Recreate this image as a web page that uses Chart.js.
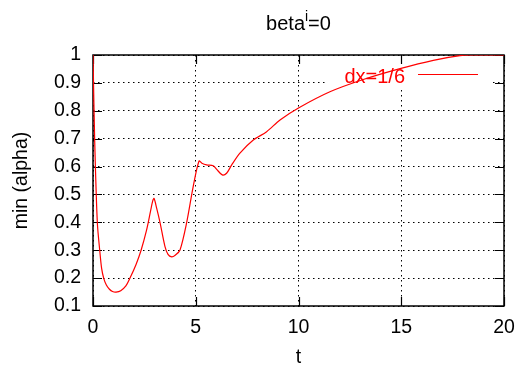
<!DOCTYPE html>
<html>
<head>
<meta charset="utf-8">
<script src="https://cdn.jsdelivr.net/npm/chart.js@4"></script>
<style>
  html, body { margin: 0; padding: 0; background: #fff; }
  #wrap { width: 519px; height: 369px; }
</style>
</head>
<body>
<div id="wrap"><canvas id="alphaChart" width="519" height="369"></canvas></div>
<script>
// min(alpha) against time, dx = 1/6
const tValues = [0, 0.08, 0.21, 0.34, 0.42, 0.52, 0.65, 0.8, 0.95, 1.12, 1.35, 1.6, 1.8, 2.1, 2.34, 2.6, 2.8, 2.9, 2.97,
  3.1, 3.26, 3.5, 3.65, 3.83, 4.0, 4.23, 4.56, 4.88, 5.16, 5.3, 5.53, 5.85, 6.02, 6.29, 6.5, 6.75,
  7.15, 7.8, 8.45, 9.1, 10, 11.53, 13.15, 14.94, 16.56, 17.86, 18.5, 20];
const minAlpha = [1.0, 0.7, 0.4, 0.29, 0.235, 0.2, 0.175, 0.16, 0.152, 0.15, 0.155, 0.172, 0.2, 0.25, 0.3, 0.37, 0.44, 0.475, 0.486,
  0.45, 0.40, 0.314, 0.285, 0.276, 0.282, 0.30, 0.40, 0.53, 0.62, 0.612, 0.606, 0.603, 0.59, 0.57, 0.576, 0.606,
  0.648, 0.695, 0.725, 0.767, 0.81, 0.868, 0.912, 0.951, 0.981, 0.998, 1.0, 1.0];
const xTicks = [0, 5, 10, 15, 20];
const yTicks = [0.1, 0.2, 0.3, 0.4, 0.5, 0.6, 0.7, 0.8, 0.9, 1];
const seriesLabel = 'dx=1/6';

const FONT = '"Liberation Sans", Arial, sans-serif';
const RED = '#ff0000';

// gnuplot style frame: key box, full border, inward ticks on all four sides
const framePlugin = {
  id: 'frame',
  beforeDatasetsDraw(chart) {
    const { ctx, chartArea: a, scales: { x, y } } = chart;
    ctx.save();
    // key
    ctx.fillStyle = '#fff';
    ctx.fillRect(328, a.top + 1, 164, 32);
    ctx.fillStyle = RED;
    ctx.font = '20px ' + FONT;
    ctx.textAlign = 'right';
    ctx.textBaseline = 'alphabetic';
    ctx.fillText(seriesLabel, 405, 82.5);
    ctx.strokeStyle = RED;
    ctx.lineWidth = 1;
    ctx.beginPath();
    ctx.moveTo(418, 74.5);
    ctx.lineTo(478, 74.5);
    ctx.stroke();

    ctx.strokeStyle = '#000';
    ctx.lineWidth = 1.5;
    ctx.strokeRect(a.left, a.top, a.right - a.left, a.bottom - a.top);
    ctx.lineWidth = 1.2;
    const len = 9;
    ctx.beginPath();
    xTicks.forEach(v => {
      const px = Math.round(x.getPixelForValue(v)) + 0.5;
      ctx.moveTo(px, a.bottom); ctx.lineTo(px, a.bottom - len);
      ctx.moveTo(px, a.top); ctx.lineTo(px, a.top + len);
    });
    yTicks.forEach(v => {
      const py = Math.round(y.getPixelForValue(v)) + 0.5;
      ctx.moveTo(a.left, py); ctx.lineTo(a.left + len, py);
      ctx.moveTo(a.right, py); ctx.lineTo(a.right - len, py);
    });
    ctx.stroke();
    ctx.restore();
  },
  afterDraw(chart) {
    // title with superscript i
    const { ctx, chartArea: a } = chart;
    const cx = (a.left + a.right) / 2;
    ctx.save();
    ctx.fillStyle = '#000';
    ctx.textBaseline = 'alphabetic';
    ctx.textAlign = 'left';
    const big = '20px ' + FONT, small = '14px ' + FONT;
    ctx.font = big;
    const w1 = ctx.measureText('beta').width;
    const w3 = ctx.measureText('=0').width;
    ctx.font = small;
    const w2 = ctx.measureText('i').width;
    let x0 = cx - (w1 + w2 + w3) / 2;
    const base = 30;
    ctx.font = big;
    ctx.fillText('beta', x0, base);
    ctx.font = small;
    ctx.fillText('i', x0 + w1, base - 9);
    ctx.font = big;
    ctx.fillText('=0', x0 + w1 + w2, base);
    ctx.restore();
  }
};

const ctx = document.getElementById('alphaChart').getContext('2d');
const alphaChart = new Chart(ctx, {
  type: 'line',
  data: {
    datasets: [{
      label: seriesLabel,
      data: tValues.map((t, i) => ({ x: t, y: minAlpha[i] })),
      borderColor: RED,
      borderWidth: 1.2,
      pointRadius: 0,
      fill: false,
      tension: 0.3,
    }]
  },
  options: {
    responsive: false,
    animation: false,
    devicePixelRatio: 1,
    layout: { padding: { top: 55, right: 15, left: 0, bottom: 0 } },
    plugins: {
      legend: { display: false },
      tooltip: { enabled: false },
    },
    scales: {
      x: {
        type: 'linear',
        min: 0,
        max: 20,
        afterFit: s => { s.height = 63; s.paddingLeft = 0; s.paddingRight = 0; },
        afterBuildTicks: s => { s.ticks = xTicks.map(v => ({ value: v })); },
        ticks: {
          color: '#000',
          font: { family: FONT, size: 19.5 },
          padding: 10,
          maxRotation: 0,
          callback: v => String(v),
        },
        grid: {
          color: '#000',
          lineWidth: 1,
          drawTicks: false,
        },
        border: { display: false, dash: [1.5, 3.5] },
        title: {
          display: true,
          text: 't',
          color: '#000',
          font: { family: FONT, size: 19.5 },
          padding: { top: 0, bottom: 0 },
        },
      },
      y: {
        type: 'linear',
        min: 0.1,
        max: 1,
        afterFit: s => { s.width = 93; s.paddingTop = 0; s.paddingBottom = 0; },
        afterBuildTicks: s => { s.ticks = yTicks.map(v => ({ value: v })); },
        ticks: {
          color: '#000',
          font: { family: FONT, size: 19.5 },
          padding: 12,
          callback: v => String(Number(v.toFixed(1))),
        },
        grid: {
          color: '#000',
          lineWidth: 1,
          drawTicks: false,
        },
        border: { display: false, dash: [1.5, 3.5] },
        title: {
          display: true,
          text: 'min (alpha)',
          color: '#000',
          font: { family: FONT, size: 19.5 },
          padding: { top: 10, bottom: 0 },
        },
      },
    },
  },
  plugins: [framePlugin],
});
</script>
</body>
</html>
